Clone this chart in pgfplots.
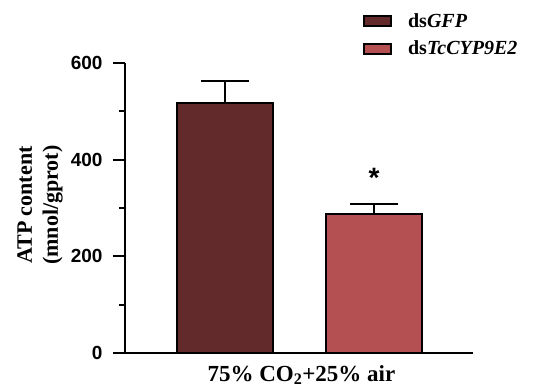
\documentclass[border=0pt]{standalone}
\usepackage{fontspec}
\setmainfont{Liberation Serif}
\setsansfont{Liberation Sans}
\usepackage{pgfplots}
\pgfplotsset{compat=1.18}
\definecolor{darkb}{HTML}{632A2B}
\definecolor{redb}{HTML}{B55052}
\begin{document}
\begin{tikzpicture}[x=1pt,y=1pt]
\useasboundingbox (0,0) rectangle (555,389);
\begin{axis}[
  at={(125pt,36pt)}, anchor=south west,
  scale only axis, width=348pt, height=290pt,
  xmin=0, xmax=348, ymin=0, ymax=600,
  clip=false,
  axis x line=bottom, axis y line=left,
  axis line style={-, line width=2pt},
  xtick=\empty,
  ytick={0,200,400,600}, minor ytick={100,300,500},
  tick align=outside,
  major tick length=12pt, minor tick length=6pt,
  tick style={line width=2pt, black},
  /pgf/number format/assume math mode=true,
  yticklabel style={font=\fontsize{19}{20}\selectfont\sffamily\bfseries, xshift=-7pt},
  ylabel={ATP content\\(mnol/gprot)},
  ylabel style={at={(axis description cs:-0.244,0.51)}, anchor=center, align=center, font=\fontsize{22}{26}\selectfont\bfseries},
  xlabel={75\% CO\textsubscript{2}+25\% air},
  xlabel style={at={(axis description cs:0.507,-0.076)}, anchor=center, font=\fontsize{23}{26}\selectfont\bfseries},
  legend style={at={(axis description cs:0.675,1.185)}, anchor=north west, draw=none, fill=none,
    font=\fontsize{20}{22}\selectfont\bfseries, row sep=8pt,
    /tikz/every odd column/.append style={column sep=14pt}},
  legend cell align=left,
  legend image code/.code={\draw[#1, line width=2pt] (0pt,-5pt) rectangle (27pt,5pt);},
]
\addplot[ybar, bar width=96, bar shift=0pt, fill=darkb, draw=black, line width=2pt,
  error bars/.cd, y dir=plus, y explicit,
  error bar style={line width=2pt, black},
  error mark options={rotate=90, line width=2pt, mark size=24pt, black}]
  coordinates {(100,518) +- (0,45)};
\addlegendentry{ds\textit{GFP}}
\addplot[ybar, bar width=96, bar shift=0pt, fill=redb, draw=black, line width=2pt,
  error bars/.cd, y dir=plus, y explicit,
  error bar style={line width=2pt, black},
  error mark options={rotate=90, line width=2pt, mark size=24pt, black}]
  coordinates {(249,287) +- (0,21)};
\addlegendentry{ds\textit{TcCYP9E2}}
\node[font=\fontsize{28}{28}\selectfont\sffamily\bfseries] at (axis cs:249,362) {*};
\end{axis}
\end{tikzpicture}
\end{document}
